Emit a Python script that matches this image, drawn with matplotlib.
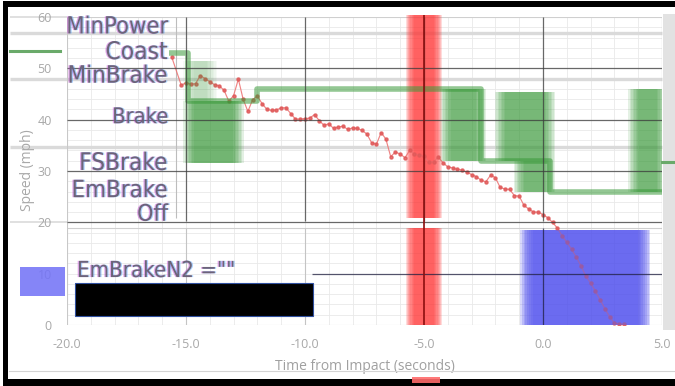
import os
import numpy as np
import matplotlib
matplotlib.use("Agg")
import matplotlib.pyplot as plt
from matplotlib.patches import Rectangle
from matplotlib.lines import Line2D
from matplotlib import font_manager as fm
from matplotlib.font_manager import FontProperties
import matplotlib.patheffects as pe

# ---------------------------------------------------------------- data
speed_time = [-15.6, -15.2, -15.0, -14.8, -14.6, -14.4, -14.2, -14.0, -13.8, -13.6,
              -13.4, -13.2, -13.0, -12.8, -12.6, -12.4, -12.2, -12.0, -11.8, -11.6,
              -11.4, -11.2, -11.0, -10.8, -10.6, -10.4, -10.2, -10.0, -9.8, -9.6,
              -9.4, -9.2, -9.0, -8.8, -8.6, -8.4, -8.2, -8.0, -7.8, -7.6,
              -7.4, -7.2, -7.0, -6.8, -6.6, -6.4, -6.2, -6.0, -5.8, -5.6,
              -5.4, -5.2, -5.0, -4.8, -4.6, -4.4, -4.2, -4.0, -3.8, -3.6,
              -3.4, -3.2, -3.0, -2.8, -2.6, -2.4, -2.2, -2.0, -1.8, -1.6,
              -1.4, -1.2, -1.0, -0.8, -0.6, -0.4, -0.2, 0.0, 0.2, 0.4,
              0.6, 0.8, 1.0, 1.2, 1.4, 1.6, 1.8, 2.0, 2.2, 2.4,
              2.6, 2.8, 3.0, 3.2, 3.4]
speed_mph = [52.2, 46.7, 47.2, 46.9, 47.0, 48.6, 48.0, 47.4, 46.8, 46.6,
             45.7, 43.6, 44.7, 47.9, 44.0, 41.6, 43.9, 44.6, 43.1, 42.0,
             41.8, 41.9, 42.3, 42.3, 41.2, 40.1, 40.1, 40.2, 40.3, 41.0,
             39.8, 38.9, 39.2, 38.3, 38.6, 38.7, 38.1, 38.4, 38.3, 37.9,
             37.2, 35.5, 35.2, 37.5, 36.2, 32.8, 33.7, 33.3, 32.6, 34.0,
             33.3, 33.1, 32.9, 31.7, 31.8, 32.7, 31.6, 30.8, 30.6, 30.3,
             30.2, 29.8, 29.3, 28.9, 28.2, 27.9, 29.2, 28.7, 26.8, 26.5,
             26.4, 25.2, 25.1, 23.3, 22.6, 22.0, 22.0, 21.5, 20.9, 20.0,
             18.9, 17.4, 16.1, 14.8, 13.2, 11.5, 9.5, 8.2, 6.6, 4.9,
             3.2, 1.6, 0.4, 0.2, 0.1]

# brake state trace (step, held until next time)
state_time = [-15.7, -14.9, -12.0, -2.6, 0.3, 5.0]
state_level = [53.0, 43.7, 46.0, 32.0, 25.9, 25.9]

# periods where the state toggles rapidly between two levels
toggle_start = [-14.9, -14.9, -4.1, -1.8, -1.0, 3.8]
toggle_end = [-13.9, -12.8, -2.6, 0.3, 0.3, 5.0]
toggle_low = [43.7, 31.5, 32.0, 32.0, 25.9, 25.9]
toggle_high = [51.5, 43.7, 46.0, 45.3, 32.0, 46.0]
toggle_strength = [0.3, 0.7, 0.68, 0.68, 0.68, 0.68]

state_names = ["MinPower", "Coast", "MinBrake", "Brake", "FSBrake", "EmBrake", "Off"]
state_label_level = [56.8, 51.8, 47.2, 39.3, 30.2, 24.9, 20.3]

event_time = -5.0
n2_start, n2_end = -0.7, 4.25
n2_label = 'EmBrakeN2 =""'

x_ticks = [-20, -15, -10, -5, 0, 5]
y_ticks = [0, 10, 20, 30, 40, 50, 60]

# ---------------------------------------------------------------- style
W, H, DPI = 675, 386, 100
plt.rcParams["font.family"] = ["Open Sans", "DejaVu Sans"]

GREEN = "#3a9a3a"
RED = "#ff3c3c"
BLUE = "#5a5af0"
GRID_DARK = "#3c3c3c"
GRID_MINOR = "#e9e9e9"
GHOST = "#dadada"
TICK_GRAY = "#a8a8a8"
LABEL_INK = "#6c6478"


def narrow_font():
    keys = ["liberationsansnarrow-regular", "dejavusanscondensed.ttf",
            "robotocondensed-regular", "robotocondensed[", "opensans_condensed-regular",
            "opensans-condensed"]
    for key in keys:
        for f in fm.fontManager.ttflist:
            if os.path.basename(f.fname).lower().startswith(key):
                return FontProperties(fname=f.fname)
    return FontProperties(family="DejaVu Sans")


def soft_span(ax, t0, t1, lo, hi, color, alpha, feather, layers=8, zorder=2, clip=True):
    """Filled band whose left/right edges fade over `feather` seconds."""
    a = 1 - (1 - alpha) ** (1.0 / layers)
    for i in range(layers):
        grow = feather * ((i + 0.5) / layers - 0.5)
        ax.add_patch(Rectangle((t0 - grow, lo), (t1 - t0) + 2 * grow, hi - lo,
                               fc=color, ec="none", alpha=a, zorder=zorder, clip_on=clip))


fig = plt.figure(figsize=(W / DPI, H / DPI), dpi=DPI)
fig.patch.set_facecolor("white")


def px_rect(x0, y0, x1, y1, **kw):
    fig.add_artist(Rectangle((x0 / W, 1 - y1 / H), (x1 - x0) / W, (y1 - y0) / H,
                             transform=fig.transFigure, **kw))


def px_line(x0, x1, y, **kw):
    fig.add_artist(Line2D([x0 / W, x1 / W], [1 - y / H, 1 - y / H],
                          transform=fig.transFigure, **kw))


# axes box: t=-20..5 across x 67..662 px, speed 0..60 across y 325..17 px
ax = fig.add_axes([67 / W, 1 - 325 / H, (662 - 67) / W, (325 - 17) / H])
ax.set_xlim(-20, 5)
ax.set_ylim(0, 60)
for s in ax.spines.values():
    s.set_visible(False)

UP_LO = 20.8     # bottom of the upper panel
LO_HI = 18.9     # top of the lower panel

# minor grid
ax.vlines(np.arange(-19, 5, 1), 0, 60, color=GRID_MINOR, lw=0.6, zorder=1)
ax.hlines(np.arange(2, 60, 2), -20, 5, color=GRID_MINOR, lw=0.6, zorder=1)
# faint doubled rows running across the whole window
ax.hlines([56.8, 48.0, 34.6], -22.4, 5.0, color=GHOST, lw=2.4, zorder=1, clip_on=False)
ax.hlines([60.0, 20.0], -22.4, -20.0, color=GHOST, lw=1.2, zorder=1, clip_on=False)
ax.hlines([60.0, LO_HI, 0.0], -20, 5, color="#cfcfcf", lw=0.8, zorder=1)
ax.vlines([-20], 0, 60, color="#c8c8c8", lw=0.8, zorder=1)
ax.vlines([5], 0, 60, color="#9a9a9a", lw=0.8, zorder=1)
ax.vlines([-15.42], UP_LO, 60, color="#bdbdbd", lw=0.8, zorder=1)

# EmBrakeN2 active window, event marker band
soft_span(ax, n2_start, n2_end, 0, 18.5, BLUE, 0.75, 0.6, zorder=2)
soft_span(ax, event_time - 0.6, event_time + 0.6, UP_LO, 60.45, RED, 0.8, 0.4,
          zorder=2, clip=False)
soft_span(ax, event_time - 0.6, event_time + 0.6, 0, LO_HI, RED, 0.8, 0.4, zorder=2)

# speed trace
ax.plot(speed_time, speed_mph, color="#ec7070", lw=0.85, marker="o", ms=2.2,
        mfc="#e05a5a", mec="#e05a5a", alpha=0.85, zorder=4)

# brake state trace and toggling periods
ax.plot(state_time, state_level, drawstyle="steps-post", color=GREEN, lw=4,
        alpha=0.55, solid_capstyle="butt", zorder=5)
for t0, t1, lo, hi, k in zip(toggle_start, toggle_end, toggle_low, toggle_high,
                             toggle_strength):
    soft_span(ax, t0, t1, lo, hi, GREEN, k, 0.5, zorder=5)

# blue top layer
soft_span(ax, n2_start, n2_end, 0, 18.5, BLUE, 0.5, 0.6, zorder=5)

# major grid
ax.vlines([-15, -10, -5, 0], UP_LO - 0.6, 60, color=GRID_DARK, lw=0.9, alpha=0.75, zorder=6)
ax.hlines([50, 40, 30, 20], -20, 5, color=GRID_DARK, lw=0.9, alpha=0.75, zorder=6)
ax.vlines([-15, -10], 0, LO_HI, color="#c4c4c4", lw=0.8, zorder=6)
ax.vlines([0], 0, LO_HI, color="#202040", lw=0.9, alpha=0.75, zorder=6)
ax.hlines([10], -9.7, 5, color="#202040", lw=0.9, alpha=0.75, zorder=6)
ax.vlines([event_time], 0, 60.45, color="#8e0e0e", lw=1.2, zorder=7, clip_on=False)

# ticks and labels
ax.set_xticks(x_ticks)
ax.set_xticklabels([f"{v:.1f}" for v in x_ticks])
ax.set_yticks(y_ticks)
ax.set_yticklabels([str(v) for v in y_ticks])
ax.tick_params(length=0, labelsize=9, labelcolor=TICK_GRAY)
ax.tick_params(axis="x", pad=9)
ax.tick_params(axis="y", pad=11)
ax.set_xlabel("Time from Impact (seconds)", fontsize=10, color="#a0a0a0")
ax.xaxis.set_label_coords(0.501, -0.11)
ax.set_ylabel("Speed (mph)", fontsize=10, color="#a8a8a8")
ax.yaxis.set_label_coords(-0.054, 0.503)

# state labels, sized to their slot widths
fp = narrow_font()
fringe = [pe.SimplePatchShadow(offset=(-0.9, 0), shadow_rgbFace="#c040d0", alpha=0.45),
          pe.SimplePatchShadow(offset=(0.9, 0), shadow_rgbFace="#3090ff", alpha=0.4),
          pe.Normal()]
renderer = fig.canvas.get_renderer()
label_width_px = [102, 62, 100, 56, 88, 96, 31]
for name, lvl, wpx in zip(state_names, state_label_level, label_width_px):
    t = ax.text(-15.76, lvl, name, fontproperties=fp, fontsize=20, ha="right",
                va="baseline", color=LABEL_INK, zorder=8, clip_on=False,
                path_effects=fringe)
    bw = t.get_window_extent(renderer=renderer).width
    t.set_fontsize(20 * wpx / bw)

t = ax.text(-19.58, 9.34, n2_label, fontproperties=fp, fontsize=20, ha="left",
            va="baseline", color=LABEL_INK, zorder=8, path_effects=fringe)
bw = t.get_window_extent(renderer=renderer).width
t.set_fontsize(20 * 158 / bw)

ax.add_patch(Rectangle((-19.66, 1.75), 10.0, 6.42, fc="black", ec="#3050a0",
                       lw=0.8, zorder=9))

# window furniture
px_line(10, 60, 50.5, color="#6aaa6a", lw=2.2, zorder=3)
px_line(662, 675, 162, color="#6aaa6a", lw=2.2, zorder=3)
px_rect(663, 14, 675, 330, fc="#e2e2e2", ec="none", zorder=-1)
px_rect(20, 267, 65, 296, fc="#7474f6", ec="none", alpha=0.88, zorder=10)
px_line(9, 675, 371, color="#d4d4d4", lw=0.8, zorder=10)
px_rect(3, 1, 675, 7, fc="black", ec="none", zorder=11)
px_rect(3, 1, 8, 386, fc="black", ec="none", zorder=11)
px_rect(3, 379, 675, 386, fc="black", ec="none", zorder=11)
px_rect(412, 377, 440, 383, fc="#ff6a6a", ec="none", alpha=0.9, zorder=12)

fig.savefig("out.png", dpi=DPI, facecolor="white")
